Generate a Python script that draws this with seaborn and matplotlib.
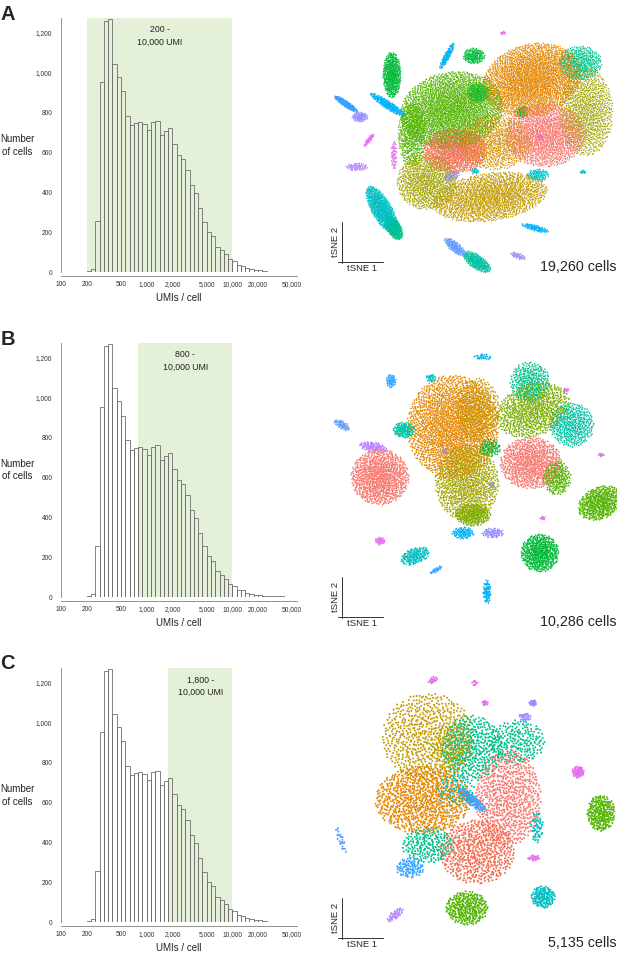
import numpy as np
import pandas as pd
import matplotlib
matplotlib.use("Agg")
import matplotlib.pyplot as plt
import seaborn as sns

# ---- histogram data: cells per UMI bin, 20 log bins per decade from 200 UMI ----
bin_start = 200
bins_per_decade = 20
cell_counts = [5, 15, 257, 952, 1258, 1267, 1045, 980, 907, 785,
               738, 747, 752, 743, 713, 752, 760, 688, 708, 722,
               642, 588, 565, 512, 437, 398, 320, 253, 203, 182,
               128, 112, 90, 67, 57, 37, 33, 20, 15, 12,
               12, 6, 4, 3, 3, 3, 2, 2, 1]

panel_letters = ["A", "B", "C"]
umi_low = [200, 800, 1800]
umi_high = 10000
cell_labels = ["19,260 cells", "10,286 cells", "5,135 cells"]

x_ticks = [100, 200, 500, 1000, 2000, 5000, 10000, 20000, 50000]
x_tick_labels = ["100", "200", "500", "1,000", "2,000", "5,000", "10,000", "20,000", "50,000"]
y_ticks = [0, 200, 400, 600, 800, 1000, 1200]
y_tick_labels = ["0", "200", "400", "600", "800", "1,000", "1,200"]

# ---- tSNE clusters: (colour, tSNE1, tSNE2, spread1, spread2, tilt, cells) ----
hue_colours = {
    "red": "#F8766D", "vermilion": "#F26C4F", "orange": "#E58700",
    "amber": "#D89000", "mustard": "#C49A00", "olive": "#A3A500",
    "lime": "#7CAE00", "green": "#53B400", "green2": "#00BA38",
    "sea": "#00C08B", "aqua": "#00C1A3", "teal": "#00BFC4",
    "sky": "#00B0F6", "azure": "#35A2FF", "blue": "#619CFF",
    "violet": "#9590FF", "purple": "#B983FF", "magenta": "#E76BF3",
}

clusters_a = [
    ("green", 132, 110, 52, 38, -10, 3200),
    ("orange", 212, 80, 50, 36, -15, 3000),
    ("red", 225, 135, 40, 32, 0, 1800),
    ("vermilion", 135, 151, 32, 22, 0, 1300),
    ("olive", 107, 182, 30, 28, 0, 1100),
    ("mustard", 170, 197, 58, 24, -8, 2000),
    ("amber", 175, 142, 36, 28, 0, 1000),
    ("olive", 266, 112, 27, 44, 0, 1200),
    ("sea", 260, 63, 22, 17, 0, 500),
    ("green", 92, 135, 14, 32, 0, 600),
    ("green2", 158, 93, 11, 10, 0, 200),
    ("green2", 202, 112, 7, 6, 0, 60),
    ("green2", 72, 75, 9, 23, 0, 600),
    ("sky", 68, 105, 21, 4, 33, 300),
    ("azure", 26, 104, 14, 3, 34, 250),
    ("violet", 40, 117, 8, 5, 0, 120),
    ("magenta", 49, 140, 8, 2, -52, 60),
    ("magenta", 74, 155, 3, 15, 0, 70),
    ("purple", 37, 167, 11, 4, 0, 90),
    ("teal", 62, 210, 27, 10, 60, 900),
    ("sea", 74, 228, 13, 7, 60, 400),
    ("sky", 127, 56, 15, 3, -62, 150),
    ("green2", 154, 56, 11, 8, 0, 200),
    ("blue", 135, 247, 13, 5, 40, 200),
    ("aqua", 157, 262, 16, 7, 35, 350),
    ("sky", 215, 228, 14, 3, 15, 120),
    ("violet", 198, 256, 8, 3, 20, 60),
    ("teal", 218, 175, 11, 6, 0, 120),
    ("violet", 132, 176, 8, 5, -30, 80),
    ("teal", 155, 171, 4, 3, 0, 30),
    ("magenta", 220, 137, 3, 3, 0, 25),
    ("magenta", 183, 33, 3, 2, 0, 15),
    ("teal", 263, 172, 3, 2, 0, 15),
]

clusters_b = [
    ("orange", 133, 107, 46, 52, 0, 2300),
    ("mustard", 158, 90, 22, 32, 0, 500),
    ("olive", 147, 163, 32, 38, 0, 1100),
    ("lime", 213, 90, 38, 26, -20, 900),
    ("sea", 210, 62, 20, 20, 0, 350),
    ("aqua", 252, 105, 22, 22, 0, 450),
    ("red", 211, 143, 31, 26, 0, 900),
    ("green", 237, 158, 14, 17, 0, 250),
    ("green2", 170, 128, 11, 9, 0, 100),
    ("lime", 153, 195, 18, 11, 0, 300),
    ("red", 60, 157, 29, 28, 0, 1000),
    ("purple", 53, 127, 14, 5, 10, 120),
    ("green", 280, 183, 23, 16, -25, 550),
    ("green2", 220, 233, 19, 19, 0, 600),
    ("aqua", 84, 110, 11, 8, 0, 150),
    ("azure", 71, 61, 5, 7, 0, 60),
    ("blue", 22, 105, 9, 4, 30, 60),
    ("teal", 111, 58, 5, 4, 0, 30),
    ("sky", 163, 37, 9, 3, 0, 30),
    ("magenta", 60, 221, 5, 4, 0, 40),
    ("teal", 95, 236, 15, 8, -20, 200),
    ("azure", 116, 250, 7, 2, -30, 30),
    ("sky", 167, 272, 4, 12, 0, 80),
    ("sky", 143, 213, 11, 6, 0, 100),
    ("violet", 173, 213, 11, 5, 0, 90),
    ("magenta", 246, 70, 3, 2, 0, 12),
    ("magenta", 281, 135, 3, 2, 0, 12),
    ("magenta", 223, 198, 3, 2, 0, 12),
    ("violet", 125, 131, 3, 3, 0, 15),
    ("violet", 172, 165, 3, 3, 0, 15),
]

clusters_c = [
    ("mustard", 108, 97, 46, 44, 0, 700),
    ("orange", 103, 160, 48, 34, 0, 900),
    ("vermilion", 157, 212, 38, 32, 0, 600),
    ("red", 188, 158, 33, 48, 0, 700),
    ("sea", 152, 108, 30, 33, 0, 450),
    ("sea", 197, 102, 28, 22, 0, 250),
    ("azure", 152, 160, 18, 5, 40, 130),
    ("sea", 108, 205, 26, 18, 0, 220),
    ("azure", 90, 228, 14, 10, 0, 100),
    ("olive", 133, 108, 20, 26, 0, 150),
    ("teal", 217, 187, 6, 16, 0, 60),
    ("teal", 135, 150, 20, 16, 0, 100),
    ("green", 281, 173, 14, 18, 0, 250),
    ("green", 147, 268, 21, 17, 0, 300),
    ("teal", 223, 257, 12, 11, 0, 150),
    ("magenta", 258, 132, 6, 6, 0, 60),
    ("violet", 213, 63, 4, 3, 0, 25),
    ("violet", 205, 77, 6, 4, 0, 30),
    ("magenta", 113, 40, 5, 3, -30, 20),
    ("magenta", 165, 63, 3, 3, 0, 15),
    ("magenta", 155, 43, 3, 3, 0, 10),
    ("blue", 21, 200, 14, 3, 70, 25),
    ("purple", 75, 275, 10, 4, -40, 40),
    ("magenta", 214, 218, 6, 3, 0, 25),
]

all_clusters = [clusters_a, clusters_b, clusters_c]


def radical_inverse(idx, base):
    idx = idx.copy()
    out = np.zeros(len(idx))
    f = 1.0
    while np.any(idx > 0):
        f /= base
        out += f * (idx % base)
        idx //= base
    return out


def cluster_cells(clusters, falloff):
    # spread each cluster's cells evenly over its ellipse (Halton layout)
    frames = []
    for k, (name, cx, cy, sa, sb, tilt, n) in enumerate(clusters):
        idx = np.arange(1, n + 1) + 977 * k
        u = radical_inverse(idx, 2)
        v = radical_inverse(idx, 3)
        r = np.sqrt(-np.log(1 - u * (1 - np.exp(-falloff))) / falloff)
        t = 2 * np.pi * v
        ex, ey = sa * r * np.cos(t), sb * r * np.sin(t)
        phi = np.deg2rad(tilt)
        frames.append(pd.DataFrame({
            "tSNE_1": cx + ex * np.cos(phi) - ey * np.sin(phi),
            "tSNE_2": cy + ex * np.sin(phi) + ey * np.cos(phi),
            "cluster": name,
        }))
    df = pd.concat(frames, ignore_index=True)
    order = np.argsort((np.arange(len(df)) * 0.6180339887) % 1.0)
    return df.iloc[order]


sns.set_style("white")
plt.rcParams["font.family"] = ["Liberation Sans", "DejaVu Sans"]

W, H = 617, 958
fig = plt.figure(figsize=(W / 100, H / 100), dpi=100)

edges = bin_start * 10 ** (np.arange(len(cell_counts) + 1) / bins_per_decade)

hist_base = [272.3, 597.0, 922.3]      # px of the zero line
tsne_band = [(0, 300), (320, 640), (640, 958)]
letter_base = [20, 345, 669]
marker_size = [1.0, 1.4, 2.0]
falloffs = [0.9, 0.9, 0.6]
ymax = 1272

for p in range(3):
    # histogram panel
    ax = fig.add_axes([61 / W, (H - hist_base[p]) / H, 236 / W, 254 / H])
    ax.axvspan(umi_low[p], umi_high, color="#e4f1d8", lw=0, zorder=0)
    ax.bar(edges[:-1], cell_counts, width=np.diff(edges), align="edge",
           facecolor="none", edgecolor="#6e6e6e", linewidth=0.6, zorder=2)
    ax.set_xscale("log")
    ax.set_xlim(100, 57000)
    ax.set_ylim(0, ymax)
    ax.set_xticks(x_ticks)
    ax.set_xticklabels(x_tick_labels)
    ax.xaxis.set_minor_locator(matplotlib.ticker.NullLocator())
    ax.set_yticks(y_ticks)
    ax.set_yticklabels(y_tick_labels)
    ax.tick_params(axis="both", labelsize=4.8, length=2.2, width=0.5,
                   color="#808080", labelcolor="#333333", pad=1.5)
    ax.tick_params(axis="y", pad=4)
    for side in ["top", "right"]:
        ax.spines[side].set_visible(False)
    for side in ["left", "bottom"]:
        ax.spines[side].set_color("#808080")
        ax.spines[side].set_linewidth(0.6)
    ax.spines["bottom"].set_position(("outward", 2.7))
    ax.set_xlabel("UMIs / cell", fontsize=7, labelpad=3.5, color="#222222")
    ax.text(-0.186, 0.5, "Number\nof cells", transform=ax.transAxes,
            ha="center", va="center", fontsize=7, linespacing=1.35, color="#222222")
    mid = np.sqrt(umi_low[p] * umi_high)
    ax.text(mid, 1183, "%s -\n10,000 UMI" % format(umi_low[p], ","),
            ha="center", va="center", fontsize=6.3, linespacing=1.5, color="#222222")
    fig.text(0.5 / W, 1 - letter_base[p] / H, panel_letters[p], fontsize=14.5,
             fontweight="bold", ha="left", va="baseline")

    # tSNE panel
    top, bottom = tsne_band[p]
    bh = bottom - top
    tx = fig.add_axes([320 / W, (H - bottom) / H, 297 / W, bh / H])
    cells = cluster_cells(all_clusters[p], falloffs[p])
    sns.scatterplot(data=cells, x="tSNE_1", y="tSNE_2", hue="cluster",
                    palette=hue_colours, s=marker_size[p], linewidth=0,
                    legend=False, ax=tx)
    tx.set_xlim(0, 297)
    tx.set_ylim(bh, 0)
    tx.axis("off")

    # little tSNE axis key in the lower left corner
    key_y = [261.7, 296.7, 297.7][p]
    tx.plot([22.3, 22.3], [key_y - 40, key_y + 1.6], color="#333333", lw=0.7)
    tx.plot([18, 62.7], [key_y, key_y], color="#333333", lw=0.7)
    tx.text(42, key_y + 7, "tSNE 1", ha="center", va="center", fontsize=6.8)
    tx.text(15, key_y - 19.5, "tSNE 2", ha="center", va="center", fontsize=6.8,
            rotation=90)
    tx.text(296, key_y + 5.3, cell_labels[p], ha="right", va="center", fontsize=10.3)

fig.savefig("out.png", dpi=100)
